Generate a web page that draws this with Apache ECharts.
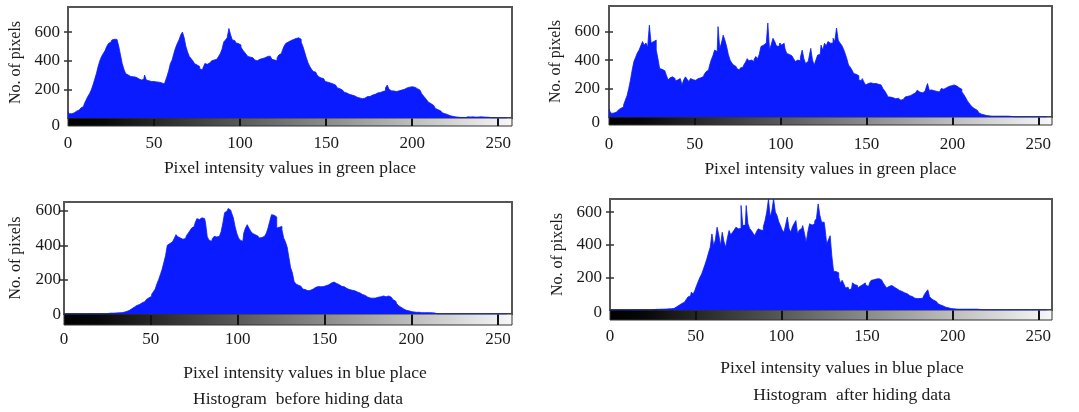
<!DOCTYPE html>
<html><head><meta charset="utf-8">
<script src="https://cdn.jsdelivr.net/npm/echarts@6/dist/echarts.min.js"></script>
<style>html,body{margin:0;padding:0;background:#fff}#c{width:1079px;height:412px}</style>
</head><body><div id="c"></div>
<script>
// ---- data (counts per intensity bin 0..255) ----
const greenBefore = [
45,30,30,35,40,48,55,60,70,80,
100,125,150,170,195,230,270,310,360,400,
430,450,470,500,520,530,545,550,548,552,
500,440,380,340,310,300,290,285,288,285,
280,275,265,262,270,300,265,260,255,258,
255,252,255,250,245,240,238,255,290,330,
380,405,450,490,520,545,580,600,560,500,
460,430,415,400,380,370,360,345,335,350,
380,375,385,395,400,405,410,420,430,450,
480,530,545,560,625,580,545,540,525,520,
510,495,475,460,445,430,425,420,410,405,
400,410,408,415,420,425,430,432,420,410,
405,400,420,440,450,470,500,520,530,540,
545,548,555,565,560,550,530,500,460,420,
385,360,340,325,320,305,290,280,275,265,
255,250,245,240,238,230,220,210,205,195,
190,180,175,165,160,160,155,150,145,140,
137,135,138,145,150,150,155,160,165,172,
175,178,180,185,190,210,230,200,190,188,
185,185,190,195,195,200,205,210,215,218,
218,215,210,205,195,185,170,155,140,125,
110,100,88,78,67,58,50,42,36,30,
25,20,16,12,10,8,6,5,4,4,
3,3,8,8,7,8,8,6,7,8,
8,7,8,6,5,3,2,1,0,0,
0,0,0,0,0,0];
const greenAfter = [
55,40,25,28,35,42,50,62,70,85,
118,150,200,260,330,390,420,450,470,500,
530,505,520,490,645,520,530,540,470,410,
340,335,325,318,290,260,275,282,270,255,
260,270,278,225,260,282,265,250,270,262,
258,265,270,275,282,285,300,318,330,360,
400,430,470,460,635,482,520,575,540,495,
440,400,380,365,355,340,330,345,350,365,
385,410,395,400,390,405,425,410,440,495,
505,518,500,660,470,510,553,530,500,495,
520,505,518,480,447,440,430,425,410,390,
400,395,420,470,410,376,390,420,482,400,
365,400,435,440,505,470,518,500,530,518,
520,553,530,625,540,520,505,480,447,410,
365,350,330,305,300,290,260,255,270,245,
225,235,240,247,235,235,225,230,225,215,
200,185,165,141,140,135,130,128,132,125,
118,125,135,141,145,150,153,160,170,175,
188,175,170,165,180,200,235,188,190,185,
188,180,176,190,200,195,205,212,215,220,
224,225,218,212,205,195,176,160,140,118,
100,85,70,58,47,35,28,20,15,12,
10,8,7,6,6,5,6,6,5,6,
6,5,6,5,4,3,0,0,0,0,
0,0,0,0,0,0,0,0,0,0,
0,0,0,0,0,0];
const blueBefore = [
0,0,0,0,0,0,0,0,0,0,
0,0,0,0,0,0,0,0,0,0,
0,0,0,0,0,3,4,5,5,6,
6,7,8,8,10,12,15,20,25,30,
40,45,50,55,60,65,72,78,85,95,
103,115,130,145,175,200,230,260,300,340,
400,410,420,430,440,462,450,443,435,433,
440,455,470,485,500,510,530,555,550,560,
562,555,530,450,430,423,440,452,448,452,
460,480,530,590,600,614,605,588,560,510,
470,443,430,423,470,500,520,500,482,470,
462,455,450,443,445,452,455,470,500,540,
578,575,565,500,505,510,490,443,420,390,
330,270,240,190,175,168,161,150,145,142,
135,132,138,145,151,155,160,161,158,160,
161,165,170,175,180,186,182,178,171,168,
161,158,150,148,142,140,138,135,132,128,
122,118,113,108,102,98,93,95,92,93,
95,98,100,103,105,100,103,105,98,90,
83,75,62,50,40,30,25,22,19,16,
14,12,12,10,10,9,8,8,8,8,
8,7,7,6,0,0,0,0,0,0,
0,0,0,0,0,0,0,0,0,0,
0,0,0,0,0,0,0,0,0,0,
0,0,0,0,0,0,0,0,0,0,
0,0,0,0,0,0];
const blueAfter = [
0,0,0,0,0,0,0,0,0,0,
0,0,0,0,0,0,0,0,0,0,
0,0,0,0,0,2,3,4,4,5,
5,5,6,6,7,8,8,10,14,20,
30,35,40,48,55,65,80,86,110,96,
120,148,175,200,220,250,280,312,350,384,
466,394,430,507,460,394,476,420,384,440,
487,460,476,490,507,497,500,640,517,520,
640,528,500,487,470,456,480,497,490,487,
510,548,600,680,569,610,680,600,579,540,
517,490,476,520,569,500,476,510,530,548,
466,490,500,517,470,415,480,528,520,528,
545,560,650,580,538,538,500,404,430,455,
330,238,235,228,200,166,182,160,135,140,
124,130,166,155,150,135,145,155,160,166,
150,145,165,182,185,190,197,192,185,176,
165,150,135,145,150,155,140,130,124,120,
114,110,105,100,93,88,82,78,72,70,
72,70,72,80,95,110,124,83,70,60,
52,45,38,31,25,20,17,14,11,9,
8,7,6,5,5,5,5,5,5,5,
5,5,5,5,5,4,0,0,0,0,
0,0,0,0,0,0,0,0,0,0,
0,0,0,0,0,0,0,0,0,0,
0,0,0,0,0,0,0,0,0,0,
0,0,0,0,0,0];
const xTicks = [0,50,100,150,200,250];
const yTicks = [0,200,400,600];
const yName = 'No. of pixels';
const xNames = ['Pixel intensity values in green place','Pixel intensity values in green place','Pixel intensity values in blue place','Pixel intensity values in blue place'];
const captions = ['Histogram  before hiding data','Histogram  after hiding data'];

// ---- layout ----
const FONT = 'Liberation Serif';
const FS_TICK = 17, FS_NAME = 17.5, FS_YNAME = 16, FS_CAP = 17.5;
const TXT = '#1a1a1a';
const BLUE = '#0a1cff';
const panels = [
 {data:greenBefore, gl:68, gt:7, gw:444, gh:111, bh:8, xmax:258, ymax:775, zero:8, lm:9, ylm:8, yng:44, xng:33, xshift:0},
 {data:greenAfter, gl:609, gt:6, gw:443, gh:111, bh:8, xmax:258, ymax:780, zero:6, lm:11, ylm:9, yng:45, xng:35, xshift:0},
 {data:blueBefore, gl:64, gt:202, gw:448, gh:112, bh:11, xmax:258, ymax:652, zero:1, lm:6, ylm:3, yng:40, xng:39, xshift:34},
 {data:blueAfter, gl:610, gt:199, gw:442, gh:111, bh:10, xmax:258, ymax:680, zero:3, lm:8, ylm:8, yng:44, xng:39, xshift:22}
];
const captionPos = [{x:298, y:399},{x:852, y:395}];

const tickFont = {fontFamily:FONT, fontSize:FS_TICK, color:TXT};
const nameFont = {fontFamily:FONT, fontSize:FS_NAME, color:TXT};
const option = {animation:false, backgroundColor:'#fff', grid:[], xAxis:[], yAxis:[], series:[], graphic:[]};

panels.forEach((p,k)=>{
  const gMain = option.grid.length;
  option.grid.push({left:p.gl, top:p.gt, width:p.gw, height:p.gh, show:true, borderColor:'#555', borderWidth:2, backgroundColor:'#fff'});
  const gBar = option.grid.length;
  option.grid.push({left:p.gl, top:p.gt+p.gh, width:p.gw, height:p.bh, show:true, borderColor:'#333', borderWidth:1,
    backgroundColor:{type:'linear',x:0,y:0,x2:1,y2:0,colorStops:[{offset:0,color:'#000'},{offset:0.08,color:'#080808'},{offset:1,color:'#f8f8f8'}]}});
  const xi = option.xAxis.length;
  option.xAxis.push({gridIndex:gMain, type:'value', min:0, max:p.xmax, show:false});
  option.xAxis.push({gridIndex:gMain, type:'value', position:'top', min:0, max:p.xmax, interval:50,
    axisLine:{show:false}, axisTick:{inside:true, length:4, customValues:xTicks.slice(1), lineStyle:{color:'#333', width:1.5}},
    axisLabel:{show:false}, splitLine:{show:false}});
  option.xAxis.push({gridIndex:gBar, type:'value', position:'bottom', min:0, max:p.xmax, interval:50,
    axisLine:{show:false}, axisTick:{inside:true, length:p.bh-1, customValues:xTicks.slice(1), lineStyle:{color:'#111', width:2}},
    axisLabel:Object.assign({customValues:xTicks, margin:p.lm}, tickFont), splitLine:{show:false},
    name:xNames[k], nameLocation:'middle', nameGap:p.xng,
    nameTextStyle:Object.assign({padding:[0,0,0,p.xshift]}, nameFont)});
  const yi = option.yAxis.length;
  option.yAxis.push({gridIndex:gMain, type:'value', min:0, max:p.ymax, interval:200,
    axisLine:{show:false}, axisTick:{inside:true, length:4, customValues:yTicks.slice(1), lineStyle:{color:'#333', width:1.5}},
    axisLabel:Object.assign({customValues:yTicks, margin:p.ylm,
      formatter:v=> v===0 ? '{z|0}' : String(v),
      rich:{z:{padding:[p.zero*2,0,0,0], fontFamily:FONT, fontSize:FS_TICK, color:TXT}}}, tickFont),
    splitLine:{show:false},
    name:yName, nameLocation:'middle', nameGap:p.yng, nameTextStyle:{fontFamily:FONT, fontSize:FS_YNAME, color:TXT}});
  option.yAxis.push({gridIndex:gMain, type:'value', position:'right', min:0, max:p.ymax, interval:200,
    axisLine:{show:false}, axisTick:{inside:true, length:4, customValues:yTicks.slice(1), lineStyle:{color:'#333', width:1.5}},
    axisLabel:{show:false}, splitLine:{show:false}});
  option.yAxis.push({gridIndex:gBar, type:'value', min:0, max:1, show:false});
  option.series.push({type:'line', step:'middle', xAxisIndex:xi, yAxisIndex:yi, silent:true,
    symbol:'none', lineStyle:{color:BLUE, width:0.8}, areaStyle:{color:BLUE, opacity:1},
    data:p.data.map((v,i)=>[i,v])});
});
captions.forEach((t,i)=>{
  option.graphic.push({type:'text', x:captionPos[i].x, y:captionPos[i].y,
    style:{text:t, align:'center', verticalAlign:'middle', font:FS_CAP+'px "'+FONT+'"', fill:TXT}});
});
const chart = echarts.init(document.getElementById('c'), null, {renderer:'canvas'});
chart.setOption(option);
</script>
</body></html>
